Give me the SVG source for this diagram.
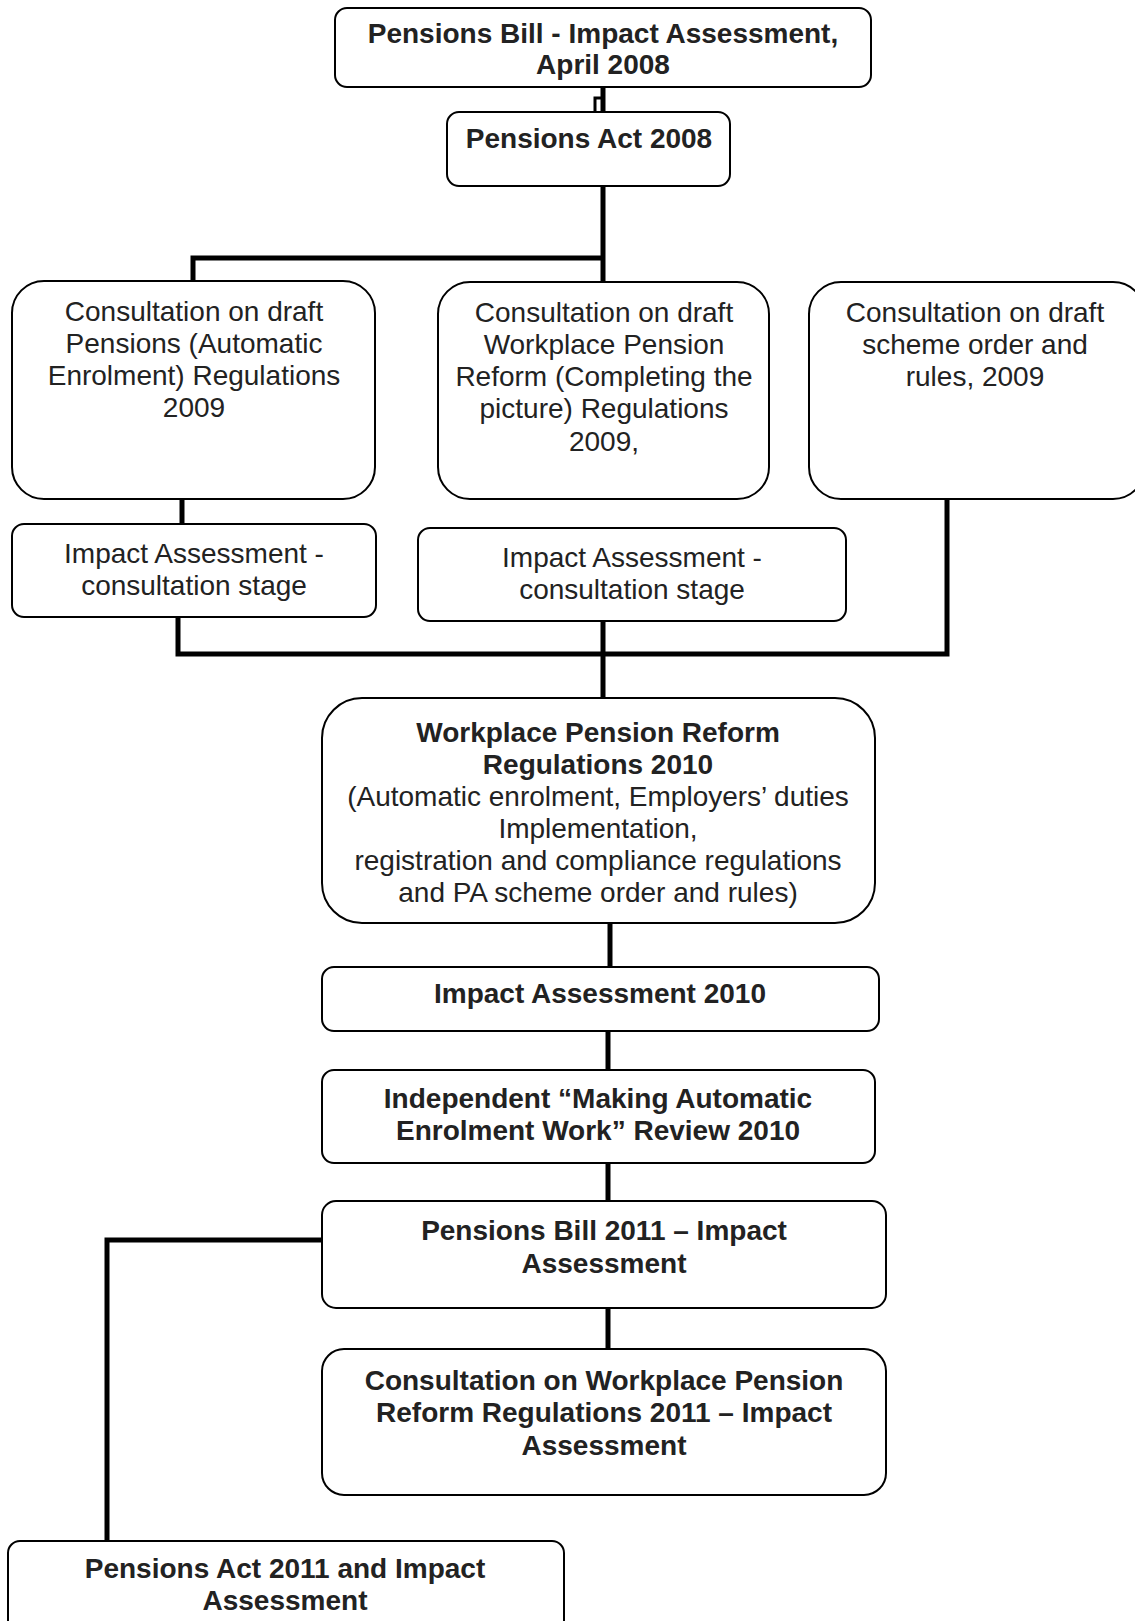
<svg xmlns="http://www.w3.org/2000/svg" width="1135" height="1621" viewBox="0 0 1135 1621">
<style>
.box{fill:#fff;stroke:#000;stroke-width:2}
.b{font-family:"Liberation Sans",Arial,sans-serif;font-size:28px;font-weight:bold;fill:#222;text-anchor:middle}
.r{font-family:"Liberation Sans",Arial,sans-serif;font-size:28px;fill:#222;text-anchor:middle}
.c{fill:none;stroke:#000;stroke-width:5;stroke-linejoin:miter}
</style>
<rect width="1135" height="1621" fill="#fff"/>
<g id="connectors">
<path class="c" d="M603,87 V112"/>
<path d="M603,98 H595 V112" fill="none" stroke="#000" stroke-width="3"/>
<path class="c" d="M603,186 V282 M603,258 H193 V281"/>
<path class="c" d="M182,499 V524"/>
<path class="c" d="M178,617 V654 H947 V499 M603,621 V698"/>
<path class="c" d="M610,923 V967"/>
<path class="c" d="M608,1031 V1070"/>
<path class="c" d="M608,1163 V1201"/>
<path class="c" d="M608,1308 V1349"/>
<path class="c" d="M322,1240 H107 V1541"/>
</g>
<g id="n1"><rect class="box" x="335" y="8" width="536" height="79" rx="12"/>
<text class="b" x="603" y="43">Pensions Bill - Impact Assessment,</text>
<text class="b" x="603" y="74">April 2008</text></g>
<g id="n2"><rect class="box" x="447" y="112" width="283" height="74" rx="12"/>
<text class="b" x="589" y="148">Pensions Act 2008</text></g>
<g id="n3"><rect class="box" x="12" y="281" width="363" height="218" rx="32"/>
<text class="r" x="194" y="321">Consultation on draft</text>
<text class="r" x="194" y="353">Pensions (Automatic</text>
<text class="r" x="194" y="385">Enrolment) Regulations</text>
<text class="r" x="194" y="417">2009</text></g>
<g id="n4"><rect class="box" x="438" y="282" width="331" height="217" rx="32"/>
<text class="r" x="604" y="322">Consultation on draft</text>
<text class="r" x="604" y="354">Workplace Pension</text>
<text class="r" x="604" y="386">Reform (Completing the</text>
<text class="r" x="604" y="418">picture) Regulations</text>
<text class="r" x="604" y="451">2009,</text></g>
<g id="n5"><rect class="box" x="809" y="282" width="336" height="217" rx="32"/>
<text class="r" x="975" y="322">Consultation on draft</text>
<text class="r" x="975" y="354">scheme order and</text>
<text class="r" x="975" y="386">rules, 2009</text></g>
<g id="n6"><rect class="box" x="12" y="524" width="364" height="93" rx="12"/>
<text class="r" x="194" y="563">Impact Assessment -</text>
<text class="r" x="194" y="595">consultation stage</text></g>
<g id="n7"><rect class="box" x="418" y="528" width="428" height="93" rx="12"/>
<text class="r" x="632" y="567">Impact Assessment -</text>
<text class="r" x="632" y="599">consultation stage</text></g>
<g id="n8"><rect class="box" x="322" y="698" width="553" height="225" rx="40"/>
<text class="b" x="598" y="742">Workplace Pension Reform</text>
<text class="b" x="598" y="774">Regulations 2010</text>
<text class="r" x="598" y="806">(Automatic enrolment, Employers’ duties</text>
<text class="r" x="598" y="838">Implementation,</text>
<text class="r" x="598" y="870">registration and compliance regulations</text>
<text class="r" x="598" y="902">and PA scheme order and rules)</text></g>
<g id="n9"><rect class="box" x="322" y="967" width="557" height="64" rx="12"/>
<text class="b" x="600" y="1003">Impact Assessment 2010</text></g>
<g id="n10"><rect class="box" x="322" y="1070" width="553" height="93" rx="12"/>
<text class="b" x="598" y="1108">Independent “Making Automatic</text>
<text class="b" x="598" y="1140">Enrolment Work” Review 2010</text></g>
<g id="n11"><rect class="box" x="322" y="1201" width="564" height="107" rx="14"/>
<text class="b" x="604" y="1240">Pensions Bill 2011 – Impact</text>
<text class="b" x="604" y="1273">Assessment</text></g>
<g id="n12"><rect class="box" x="322" y="1349" width="564" height="146" rx="22"/>
<text class="b" x="604" y="1390">Consultation on Workplace Pension</text>
<text class="b" x="604" y="1422">Reform Regulations 2011 – Impact</text>
<text class="b" x="604" y="1455">Assessment</text></g>
<g id="n13"><rect class="box" x="8" y="1541" width="556" height="100" rx="12"/>
<text class="b" x="285" y="1578">Pensions Act 2011 and Impact</text>
<text class="b" x="285" y="1610">Assessment</text></g>
</svg>
